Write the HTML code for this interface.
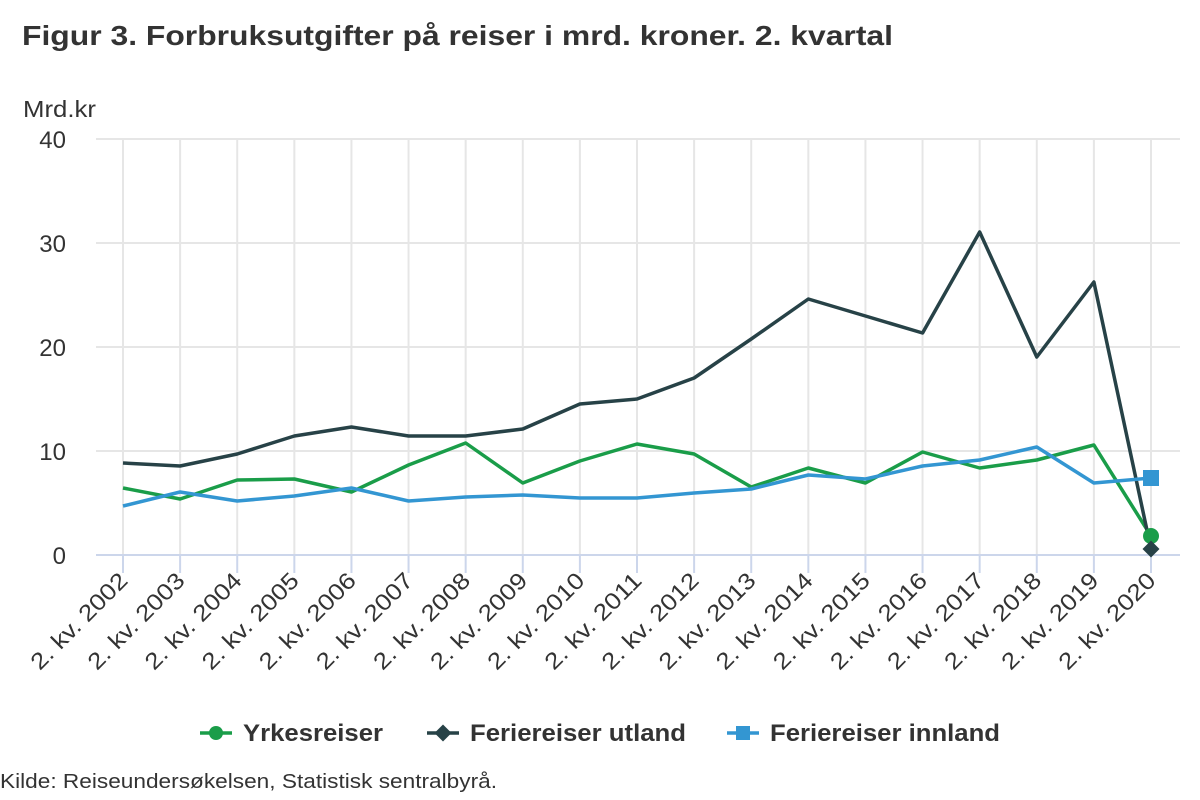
<!DOCTYPE html>
<html><head><meta charset="utf-8"><style>
html,body{margin:0;padding:0;background:#fff;width:1200px;height:800px;overflow:hidden}
svg{display:block;font-family:"Liberation Sans",sans-serif}
</style></head><body>
<svg width="1200" height="800" viewBox="0 0 1200 800" xmlns="http://www.w3.org/2000/svg">
<text x="22" y="45" font-size="28" font-weight="bold" fill="#333" textLength="871" lengthAdjust="spacingAndGlyphs">Figur 3. Forbruksutgifter på reiser i mrd. kroner. 2. kvartal</text>
<text x="23" y="117" font-size="23" fill="#333" textLength="73" lengthAdjust="spacingAndGlyphs">Mrd.kr</text>
<g stroke="#e6e6e6" stroke-width="2">
<line x1="96" y1="139" x2="1180" y2="139"/><line x1="96" y1="243" x2="1180" y2="243"/>
<line x1="96" y1="347" x2="1180" y2="347"/><line x1="96" y1="451" x2="1180" y2="451"/>
</g>
<g id="vg" stroke="#e6e6e6" stroke-width="2"></g>
<g id="ticks" stroke="#ccd6eb" stroke-width="2"></g>
<line x1="96" y1="555" x2="1180" y2="555" stroke="#ccd6eb" stroke-width="2"/>
<g font-size="24" fill="#333" text-anchor="end">
<text x="66" y="148">40</text><text x="66" y="252">30</text><text x="66" y="356">20</text><text x="66" y="460">10</text><text x="66" y="564">0</text>
</g>
<g id="labels" font-size="23" fill="#333" text-anchor="end"></g>
<polyline id="yr" fill="none" stroke="#1a9d49" stroke-width="3.5" stroke-linejoin="round"/>
<polyline id="ut" fill="none" stroke="#274247" stroke-width="3.5" stroke-linejoin="round"/>
<polyline id="in" fill="none" stroke="#3396d2" stroke-width="3.5" stroke-linejoin="round"/>
<circle cx="1151" cy="536" r="8" fill="#1a9d49"/>
<rect x="1145" y="543" width="12" height="12" transform="rotate(45 1151 549)" fill="#274247"/>
<rect x="1143" y="470" width="16" height="16" fill="#3396d2"/>
<g font-size="24" font-weight="bold" fill="#333">
<line x1="200" y1="733" x2="232" y2="733" stroke="#1a9d49" stroke-width="3.5"/><circle cx="216" cy="733" r="7" fill="#1a9d49"/>
<text x="243" y="741" textLength="140" lengthAdjust="spacingAndGlyphs">Yrkesreiser</text>
<line x1="427" y1="733" x2="459" y2="733" stroke="#274247" stroke-width="3.5"/><rect x="437" y="727" width="12" height="12" fill="#274247" transform="rotate(45 443 733)"/>
<text x="470" y="741" textLength="216" lengthAdjust="spacingAndGlyphs">Feriereiser utland</text>
<line x1="727" y1="733" x2="759" y2="733" stroke="#3396d2" stroke-width="3.5"/><rect x="736" y="726" width="14" height="14" fill="#3396d2"/>
<text x="770" y="741" textLength="230" lengthAdjust="spacingAndGlyphs">Feriereiser innland</text>
</g>
<text x="0" y="788" font-size="20" fill="#333" textLength="497" lengthAdjust="spacingAndGlyphs">Kilde: Reiseundersøkelsen, Statistisk sentralbyrå.</text>
</svg>
<script>
var ns="http://www.w3.org/2000/svg";
function X(i){return 123+i*1028/18}
var vg=document.getElementById('vg'),tk=document.getElementById('ticks'),lb=document.getElementById('labels');
for(var i=0;i<19;i++){var x=X(i);
var l=document.createElementNS(ns,'line');l.setAttribute('x1',x);l.setAttribute('x2',x);l.setAttribute('y1',139);l.setAttribute('y2',555);vg.appendChild(l);
var t=document.createElementNS(ns,'line');t.setAttribute('x1',x);t.setAttribute('x2',x);t.setAttribute('y1',555);t.setAttribute('y2',573);tk.appendChild(t);
var tx=document.createElementNS(ns,'text');tx.setAttribute('transform','translate('+(x+6)+',582) rotate(-45)');tx.setAttribute('textLength','126');tx.setAttribute('lengthAdjust','spacingAndGlyphs');tx.textContent='2. kv. '+(2002+i);lb.appendChild(tx);}
var d={yr:[488,499,480,479,492,465,443,483,461,444,454,487,468,483,452,468,460,445,536],
ut:[463,466,454,436,427,436,436,429,404,399,378,339,299,316,333,232,357,282,549],
in:[506,492,501,496,488,501,497,495,498,498,493,489,475,479,466,460,447,483,478]};
for(var k in d){document.getElementById(k).setAttribute('points',d[k].map(function(y,i){return X(i)+','+y}).join(' '));}
</script>
</body></html>
